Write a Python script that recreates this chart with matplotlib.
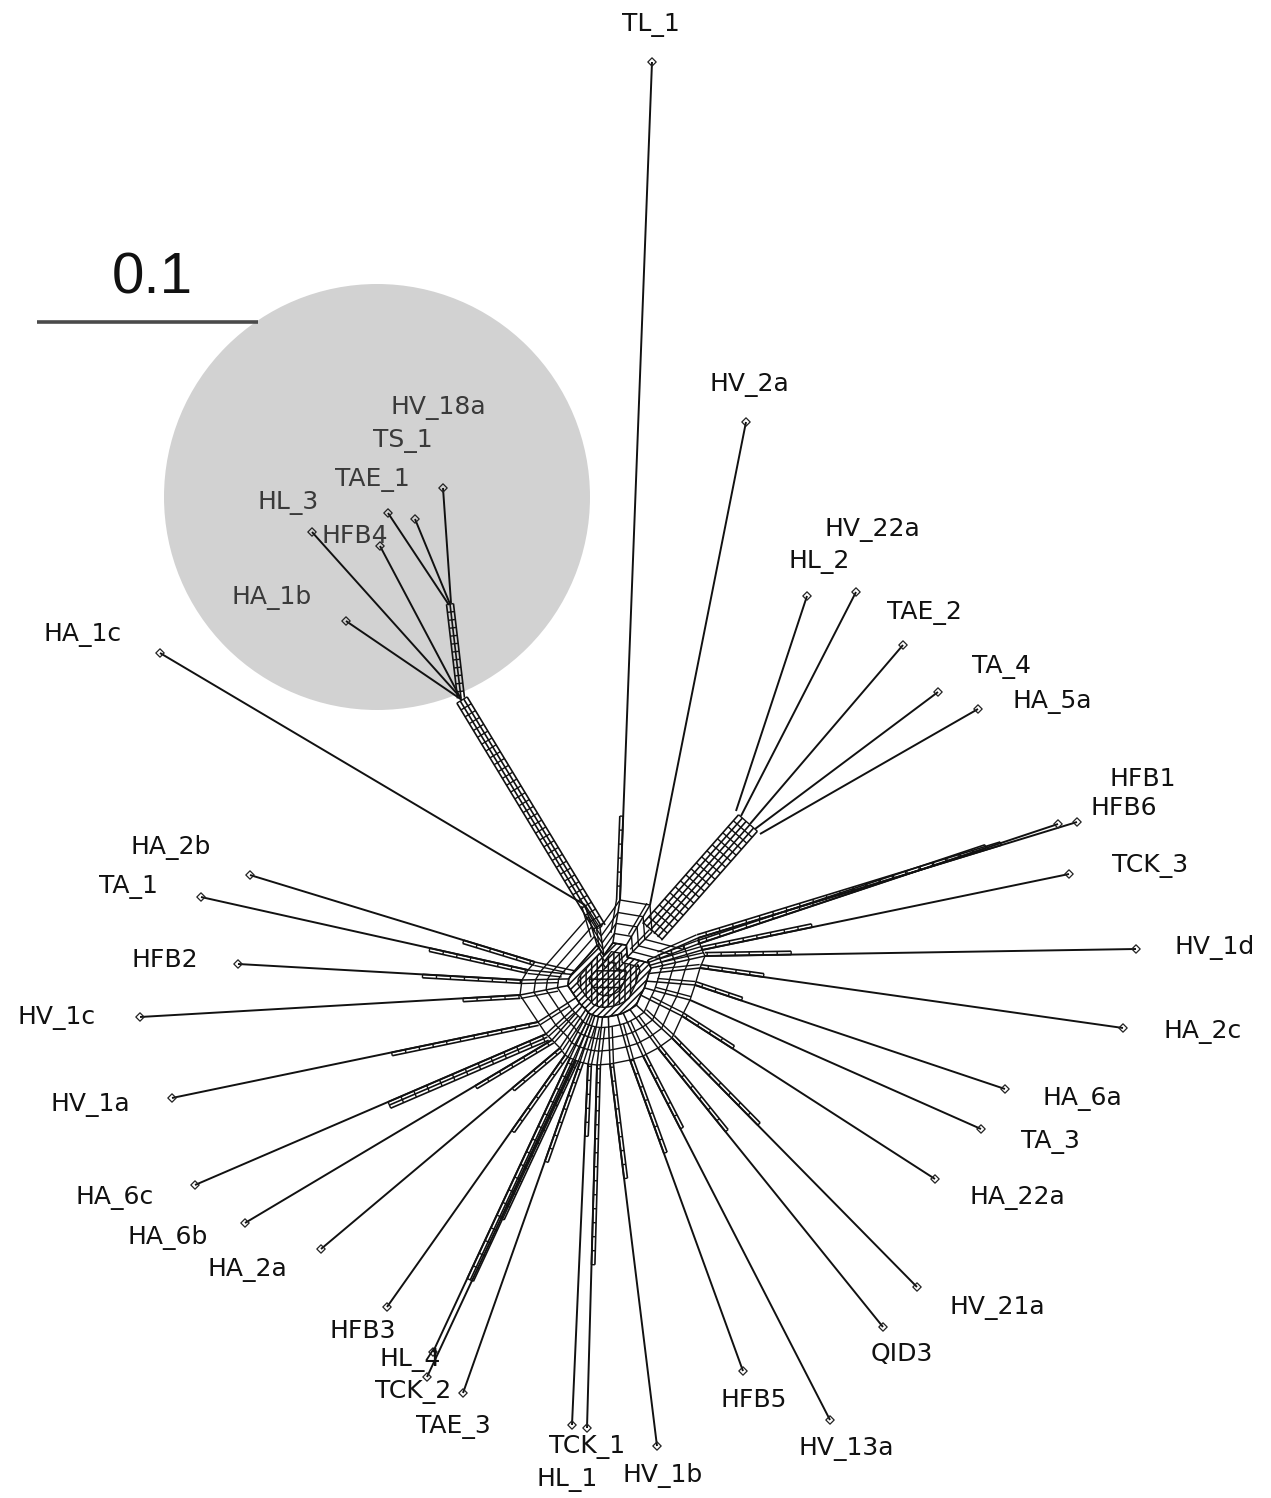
import numpy as np
import matplotlib
matplotlib.use("Agg")
import matplotlib.pyplot as plt
from matplotlib.patches import Circle, Polygon

# ---------------- data (pixel space) ----------------
taxa = ["TL_1", "HV_2a", "HV_22a", "HL_2", "TAE_2", "TA_4", "HA_5a", "HFB1", "HFB6",
        "TCK_3", "HV_1d", "HA_2c", "HA_6a", "TA_3", "HA_22a", "HV_21a", "QID3", "HV_13a",
        "HFB5", "HV_1b", "HL_1", "TCK_1", "TAE_3", "TCK_2", "HL_4", "HFB3", "HA_2a",
        "HA_6b", "HA_6c", "HV_1a", "HV_1c", "HFB2", "TA_1", "HA_2b", "HA_1c",
        "HA_1b", "HL_3", "HFB4", "TAE_1", "TS_1", "HV_18a"]
tip_x = [652, 746, 856, 807, 903, 938, 978, 1077, 1058, 1069, 1136, 1123, 1005, 981, 935, 917,
         883, 830, 743, 657, 587, 572, 427, 463, 433, 387, 321, 245, 195, 172, 140, 238, 201,
         250, 160, 346, 312, 380, 388, 415, 443]
tip_y = [62, 422, 592, 596, 645, 692, 709, 822, 824, 874, 949, 1028, 1089, 1129, 1179, 1287,
         1327, 1420, 1371, 1446, 1428, 1425, 1377, 1393, 1352, 1307, 1249, 1223, 1185, 1098,
         1017, 964, 897, 875, 653, 621, 532, 546, 513, 519, 488]
# where each pendant edge meets the network
hub_x = [620, 650, 741, 736, 750, 755, 760, 698, 698, 702, 705, 700, 695, 690, 682, 672,
         658, 643, 630, 610, 597, 588, 575, 580, 570, 565, 560, 552, 546, 538, 520, 522, 528,
         535, 585, 462, 460, 461, 449, 450, 451]
hub_y = [900, 905, 816, 811, 824, 829, 834, 938, 944, 950, 956, 968, 985, 1000, 1016, 1038,
         1048, 1056, 1060, 1064, 1065, 1064, 1060, 1062, 1058, 1055, 1048, 1040, 1034, 1022,
         995, 980, 970, 962, 905, 700, 697, 699, 605, 604, 603]
group = ["", "", "ur", "ur", "ur", "ur", "ur", "", "", "", "", "", "", "", "", "", "", "",
         "", "", "", "", "", "", "", "", "", "", "", "", "", "", "", "", "",
         "circ", "circ", "circ", "sub", "sub", "sub"]
band_n = [1, 0, 0, 0, 0, 0, 0, 1, 1, 1, 1, 1, 1, 0, 1, 1, 1, 1, 1, 1, 1, 1, 1, 1, 2, 1, 1,
          1, 2, 1, 1, 1, 1, 1, 0, 0, 0, 0, 0, 0, 0]
band_f = [0.1, 0, 0, 0, 0, 0, 0, 0.8, 0.8, 0.3, 0.2, 0.15, 0.15, 0, 0.2, 0.35, 0.3, 0.2, 0.3,
          0.3, 0.55, 0.2, 0.5, 0.3, 0.75, 0.3, 0.2, 0.25, 0.45, 0.4, 0.15, 0.35, 0.3, 0.25,
          0, 0, 0, 0, 0, 0, 0]
label_x = [651, 749, 872, 819, 924, 1002, 1052, 1143, 1124, 1150, 1215, 1203, 1082, 1050, 1017,
           997, 902, 846, 754, 663, 567, 587, 453, 413, 410, 363, 247, 168, 115, 90, 57, 165,
           128, 171, 83, 272, 288, 355, 372, 403, 438]
label_y = [25, 385, 530, 562, 613, 667, 702, 779, 808, 866, 947, 1032, 1099, 1142, 1198, 1308,
           1354, 1449, 1400, 1476, 1480, 1447, 1427, 1392, 1360, 1331, 1270, 1238, 1198, 1105,
           1018, 960, 887, 847, 635, 597, 503, 536, 480, 441, 408]

# internal split bundles: name, start, end, number of parallel lines, spacing
trunk_name = ["sub", "circ", "ur"]
trunk_x0 = [450, 462, 748]
trunk_y0 = [604, 700, 823]
trunk_x1 = [461, 600, 652]
trunk_y1 = [698, 928, 932]
trunk_n = [3, 4, 6]
trunk_sp = [3.5, 4.0, 5.0]
trunk_parent = ["circ", "", ""]

scale_label = "0.1"
highlight_center = (377, 497)
highlight_radius = 213

# ---------------- figure ----------------
plt.rcParams["hatch.linewidth"] = 1.1
W, H = 1271, 1498
fig = plt.figure(figsize=(W / 100, H / 100), dpi=100)
ax = fig.add_axes([0, 0, 1, 1])
ax.set_xlim(0, W)
ax.set_ylim(H, 0)
ax.axis("off")

LW = 1.4
LC = "#111111"

ax.add_patch(Circle(highlight_center, highlight_radius, facecolor="#d2d2d2",
                    edgecolor="none", zorder=0))


def seg(p0, p1, lw=LW, c=LC):
    ax.plot([p0[0], p1[0]], [p0[1], p1[1]], color=c, lw=lw, zorder=2,
            solid_capstyle="butt")


def unit_perp(p0, p1):
    d = np.asarray(p1, float) - np.asarray(p0, float)
    d /= np.hypot(*d)
    return np.array([-d[1], d[0]]), d


def bundle(p0, p1, n, sp, rung_step=10.0, centered=True):
    p0 = np.asarray(p0, float)
    p1 = np.asarray(p1, float)
    nrm, d = unit_perp(p0, p1)
    offs = [(k - (n - 1) / 2) * sp if centered else k * sp for k in range(n)]
    for o in offs:
        seg(p0 + o * nrm, p1 + o * nrm, lw=1.2)
    L = np.hypot(*(p1 - p0))
    t = 0.0
    while t <= L + 0.1:
        q = p0 + d * t
        seg(q + offs[0] * nrm, q + offs[-1] * nrm, lw=1.0)
        t += rung_step


C = np.array([607.0, 978.0])

# pendant edges
for i, name in enumerate(taxa):
    tip = np.array([tip_x[i], tip_y[i]], float)
    hub = np.array([hub_x[i], hub_y[i]], float)
    seg(tip, hub)
    if band_n[i] > 0:
        start = hub + band_f[i] * (tip - hub)
        bundle(start, hub, band_n[i] + 1, 3.4, rung_step=14.0, centered=False)

# internal bundles
for k in range(len(trunk_name)):
    bundle((trunk_x0[k], trunk_y0[k]), (trunk_x1[k], trunk_y1[k]), trunk_n[k], trunk_sp[k],
           rung_step=8.0)

# central web (nodes = hubs of ungrouped taxa + ends of top-level bundles)
nodes = []
for i in range(len(taxa)):
    if group[i] == "":
        ang = np.arctan2(tip_y[i] - C[1], tip_x[i] - C[0])
        nodes.append((ang, hub_x[i], hub_y[i]))
for k in range(len(trunk_name)):
    if trunk_parent[k] == "":
        ang = np.arctan2(trunk_y0[k] - C[1], trunk_x0[k] - C[0])
        nodes.append((ang, trunk_x1[k], trunk_y1[k]))
nodes.sort()
P = np.array([[x, y] for _, x, y in nodes], float)
npts = len(P)
fracs = [1.0, 0.84, 0.7, 0.57, 0.45]
rings = [C + f * (P - C) for f in fracs]
for j in range(npts):
    nrm, _ = unit_perp(P[j], C)
    seg(P[j], rings[-1][j], lw=1.1)
    seg(P[j] + 3.5 * nrm, rings[-2][j] + 3.5 * nrm, lw=1.0)
    for r_i, R in enumerate(rings):
        a, b = R[j], R[(j + 1) % npts]
        if r_i == 0 and np.hypot(*(a - b)) > 45:
            continue
        seg(a, b, lw=1.0)

# dense core of the network
ax.add_patch(Polygon(rings[-1], closed=True, facecolor="white", edgecolor=LC, lw=1.2,
                     hatch="/////", zorder=1.9))
ax.add_patch(Polygon(C + 0.75 * (rings[-1] - C), closed=True, facecolor="none",
                     edgecolor=LC, lw=1.0, hatch="|||", zorder=1.95))
ax.add_patch(Polygon(C + 0.45 * (rings[-1] - C), closed=True, facecolor="none",
                     edgecolor=LC, lw=1.0, hatch="--", zorder=1.96))

# tip markers
ax.scatter(tip_x, tip_y, marker="D", s=18, facecolor="none", edgecolor="#222222",
           linewidths=0.9, zorder=3)

# labels
for i, name in enumerate(taxa):
    col = "#3a3a3a" if group[i] in ("circ", "sub") else "#111111"
    ax.text(label_x[i], label_y[i], name, ha="center", va="center", fontsize=18,
            family="DejaVu Sans", color=col, zorder=4)

# scale bar
ax.plot([37, 258], [322, 322], color="#4a4a4a", lw=2.6, solid_capstyle="butt", zorder=2)
ax.text(152, 279, scale_label, ha="center", va="center", fontsize=42,
        family="Liberation Sans", color="#111111")

fig.savefig("out.png", dpi=100, facecolor="white")
